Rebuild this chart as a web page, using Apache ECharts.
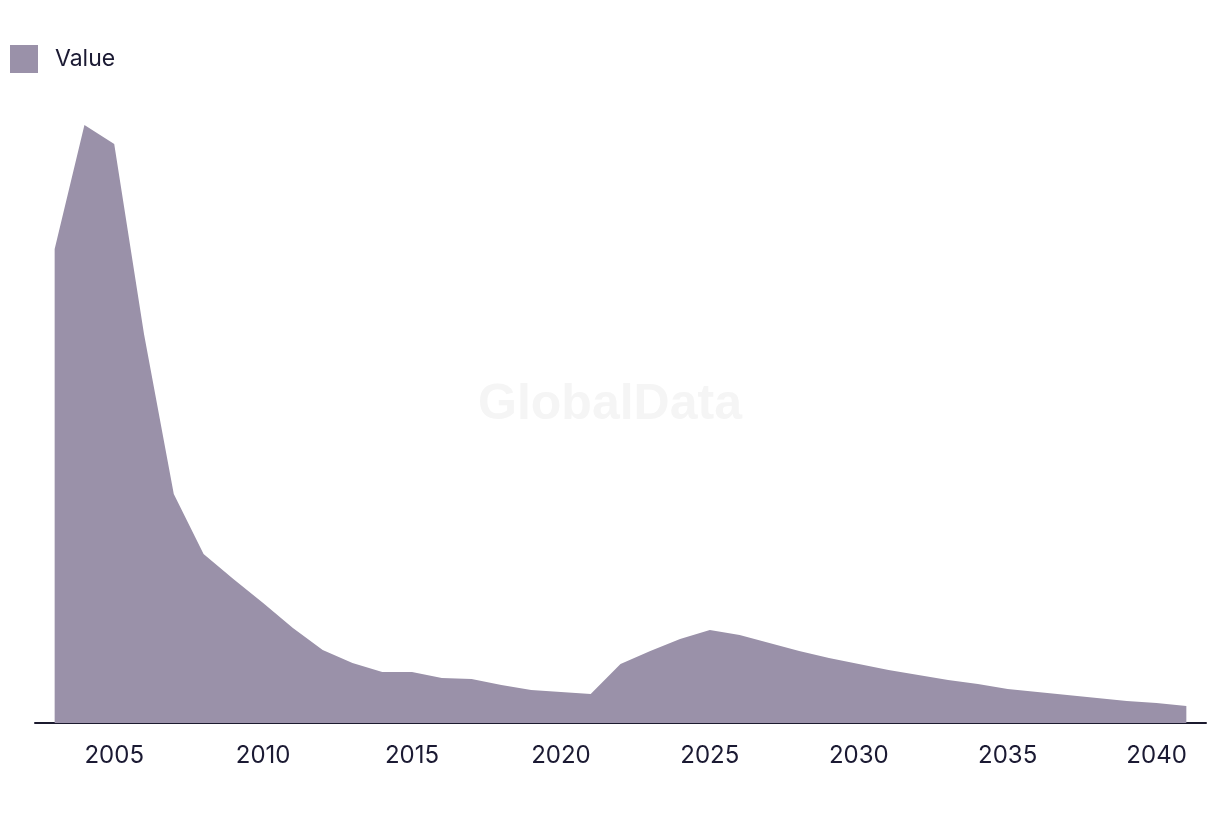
<!DOCTYPE html>
<html>
<head>
<meta charset="utf-8">
<script src="https://cdn.jsdelivr.net/npm/echarts@6/dist/echarts.min.js"></script>
<style>html,body{margin:0;padding:0;background:#fff}#c{width:1220px;height:814px}</style>
</head>
<body>
<div id="c"></div>
<script>
const years = [2003,2004,2005,2006,2007,2008,2009,2010,2011,2012,2013,2014,2015,2016,2017,2018,2019,2020,2021,2022,2023,2024,2025,2026,2027,2028,2029,2030,2031,2032,2033,2034,2035,2036,2037,2038,2039,2040,2041];
const values = [474,598,579,389,229,169,144,120,95,73,60,51,51,45,44,38,33,31,29,59,72,84,93,88,80,72,65,59,53,48,43,39,34,31,28,25,22,20,17];
const tickLabels = [2005,2010,2015,2020,2025,2030,2035,2040];
const seriesName = 'Value';

const chart = echarts.init(document.getElementById('c'));
const font = 'Inter, "Liberation Sans", Arial, sans-serif';
chart.setOption({
  animation: false,
  backgroundColor: '#fff',
  graphic: [{
    type: 'text', left: 'center', top: 380, z: 0,
    style: { text: 'GlobalData', fontSize: 50, fontWeight: 'bold', fontFamily: '"Liberation Sans", Arial, sans-serif', fill: '#f5f5f5' }
  }],
  legend: {
    left: 5, top: 40, icon: 'rect', itemWidth: 28, itemHeight: 28,
    textStyle: { fontSize: 23, color: '#1b1a33', fontFamily: font, padding: [0,0,0,12] },
    data: [seriesName]
  },
  grid: { left: 35, right: 14, top: 123, bottom: 91 },
  xAxis: {
    type: 'value', min: 2002.34, max: 2041.66,
    axisLine: { show: true, lineStyle: { color: '#1b1a2e', width: 2 } },
    axisTick: { show: false },
    splitLine: { show: false },
    axisLabel: { customValues: tickLabels, formatter: v => String(v), fontSize: 24, color: '#1b1a33', fontFamily: font, margin: 21 }
  },
  yAxis: { type: 'value', min: 0, max: 600, show: false, splitLine: { show: false } },
  series: [{
    name: seriesName, type: 'line', z: 2,
    data: years.map((y, i) => [y, values[i]]),
    showSymbol: false, symbol: 'none',
    lineStyle: { width: 0 },
    itemStyle: { color: '#9a91a9' },
    areaStyle: { color: '#9a91a9', opacity: 1 }
  }]
});
</script>
</body>
</html>
